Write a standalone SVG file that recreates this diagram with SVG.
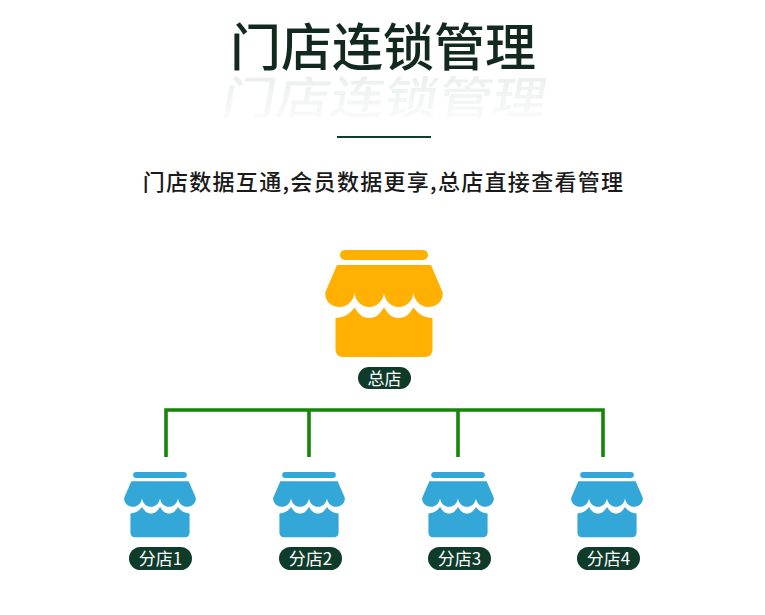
<svg xmlns="http://www.w3.org/2000/svg" width="765" height="615" viewBox="0 0 765 615">
<style>
text{font-family:"Noto Sans CJK SC","Noto Sans",sans-serif}
.title{font-size:51px;font-weight:500;fill:#11291f;text-anchor:middle}
.sub{font-size:22px;font-weight:500;fill:#1a1a1a;text-anchor:middle;letter-spacing:1.3px}
.pill{fill:#0e3b2a}
.lab{font-size:17px;fill:#fff;text-anchor:middle}
.conn{stroke:#158608;stroke-width:3.6;fill:none}
.hq{fill:#ffb000}
.br{fill:#33a7d8}
</style>
<defs>
<linearGradient id="fade" x1="0" y1="0" x2="0" y2="1">
<stop offset="0" stop-color="#e6ebe8"/><stop offset="1" stop-color="#fcfdfc"/>
</linearGradient>
<g id="store">
<rect x="-44" y="0" width="88" height="10" rx="5"/>
<path d="M-47 15H47L58.500 42C60 48 55 57 44.500 57C36 57 30 50 29.500 42.500C29 50 23 57 14.750 57C6.500 57 .500 50 0 42.500C-.500 50 -6.500 57 -14.750 57C-23 57 -29 50 -29.500 42.500C-30 50 -36 57 -44.500 57C-55 57 -60 48 -58.500 42Z"/>
<path d="M-48.500 68C-41 68 -34 64 -29.500 57.500C-25 64 -22 68 -14.750 68C-7.500 68 -4.500 64 0 57.500C4.500 64 7.500 68 14.750 68C22 68 25 64 29.500 57.500C34 64 41 68 48.500 68V99C48.500 104 45.500 107 41 107H-41C-45.500 107 -48.500 104 -48.500 99Z"/>
</g>
</defs>
<rect width="765" height="615" fill="#fff"/>
<text class="title" x="383" y="66">门店连锁管理</text>
<text class="title" x="0" y="0" style="fill:url(#fade)" transform="translate(382 114) skewX(-10) scale(1.06 0.88)">门店连锁管理</text>
<rect x="337" y="136" width="94" height="2" fill="#0f3f2c"/>
<text class="sub" x="383.500" y="190">门店数据互通,会员数据更享,总店直接查看管理</text>
<g id="connectors">
<path class="conn" d="M166 457V410H603V457M309 410V457M458 410V457"/>
</g>
<g id="hq">
<use href="#store" class="hq" transform="translate(384 250)"/>
<rect class="pill" x="358" y="367" width="53" height="22" rx="11"/>
<text class="lab" x="384.500" y="384.500">总店</text>
</g>
<g id="branch1">
<use href="#store" class="br" transform="translate(160 472) scale(.61)"/>
<rect class="pill" x="129" y="547" width="63" height="23" rx="11.500"/>
<text class="lab" x="160.500" y="565">分店1</text>
</g>
<g id="branch2">
<use href="#store" class="br" transform="translate(309 472) scale(.61)"/>
<rect class="pill" x="279" y="547" width="63" height="23" rx="11.500"/>
<text class="lab" x="310.500" y="565">分店2</text>
</g>
<g id="branch3">
<use href="#store" class="br" transform="translate(458 472) scale(.61)"/>
<rect class="pill" x="428" y="547" width="63" height="23" rx="11.500"/>
<text class="lab" x="459.500" y="565">分店3</text>
</g>
<g id="branch4">
<use href="#store" class="br" transform="translate(607 472) scale(.61)"/>
<rect class="pill" x="577" y="547" width="63" height="23" rx="11.500"/>
<text class="lab" x="608.500" y="565">分店4</text>
</g>
</svg>
